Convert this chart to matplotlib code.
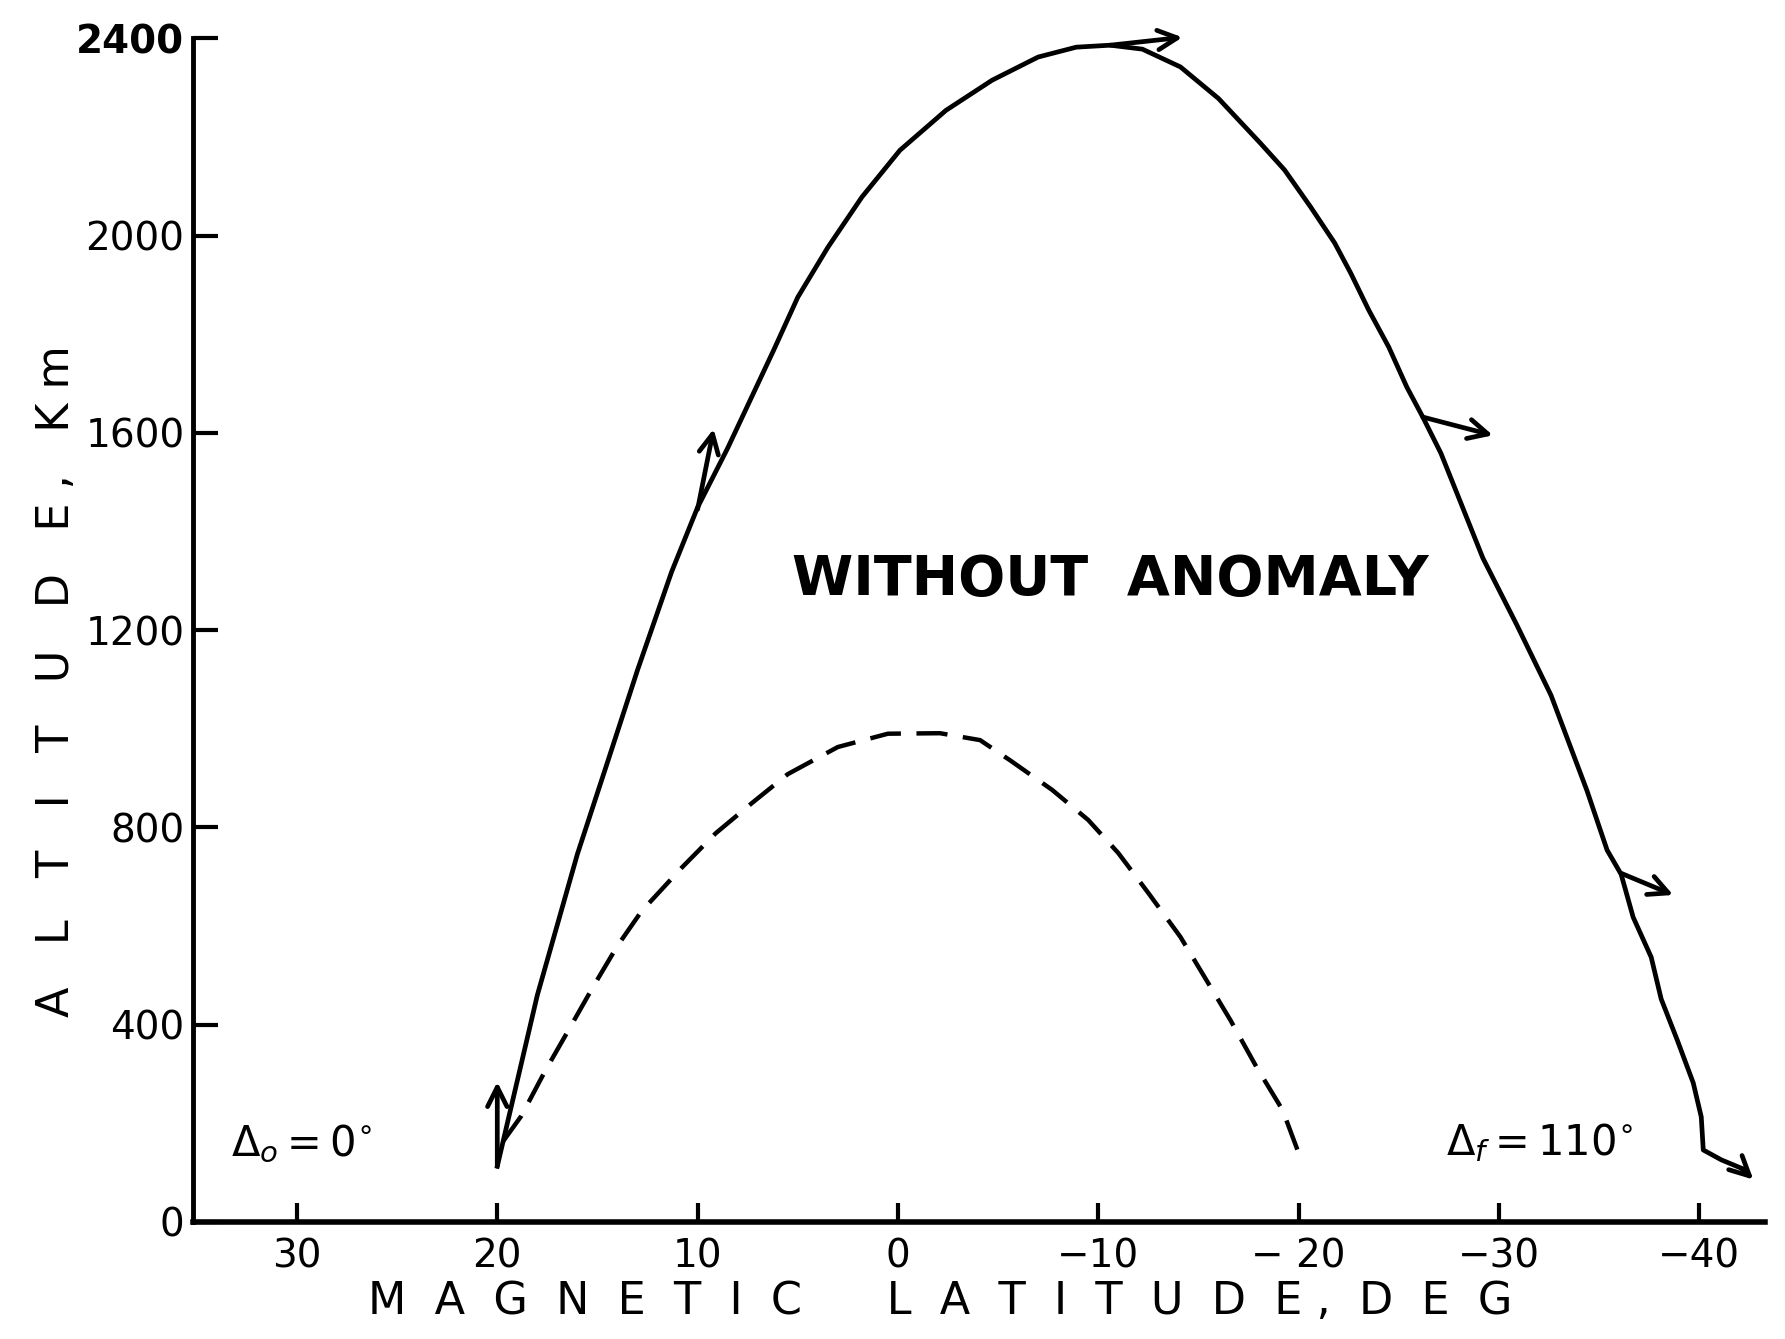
import matplotlib.pyplot as plt
import numpy as np

# trajectory without anomaly (magnetic latitude, deg / altitude, km)
lat_solid = [20.0, 18.0, 16.0, 14.5, 13.0, 11.3, 10.0, 8.5, 6.2, 5.0, 3.5, 1.8, -0.1,
             -2.4, -4.7, -7.0, -8.9, -10.6, -12.2, -14.1, -16.0, -18.1, -19.3, -20.6,
             -21.8, -22.6, -23.5, -24.5, -25.4, -26.2, -27.1, -27.9, -29.2, -30.9,
             -32.6, -34.4, -35.4, -36.1, -36.7, -37.6, -38.1, -38.9, -39.7, -40.1,
             -40.2, -41.1, -42.1]
alt_solid = [113, 460, 746, 932, 1119, 1318, 1449, 1569, 1768, 1875, 1976, 2078, 2173,
             2254, 2315, 2362, 2382, 2386, 2378, 2342, 2278, 2187, 2133, 2058,
             1985, 1924, 1849, 1774, 1693, 1632, 1559, 1478, 1346, 1210,
             1068, 874, 754, 705, 618, 537, 452, 369, 282, 213,
             146, 126, 109]

# dashed curve
lat_dash = [19.7, 18.8, 17.6, 16.5, 15.2, 14.0, 12.8, 10.8, 9.1, 7.3, 5.5, 3.0, 0.5,
            -2.1, -4.1, -5.6, -7.7, -9.5, -11.0, -12.5, -14.1, -15.3, -16.6, -17.9,
            -19.2, -20.0]
alt_dash = [164, 215, 307, 385, 478, 560, 630, 718, 788, 849, 908, 963, 990,
            991, 977, 936, 876, 815, 748, 667, 578, 497, 409, 314,
            227, 140]

# direction arrows along the path
arrow_from_lat = [20.0, 10.0, -10.6, -26.2, -36.1, -42.1]
arrow_from_alt = [113, 1445, 2386, 1632, 707, 109]
arrow_to_lat = [20.0, 9.2, -14.2, -29.7, -38.7, -42.7]
arrow_to_alt = [284, 1608, 2402, 1595, 663, 86]

x_ticks = [30, 20, 10, 0, -10, -20, -30, -40]
x_tick_labels = ['30', '20', '10', '0', '−10', '− 20', '−30', '−40']
y_ticks = [0, 400, 800, 1200, 1600, 2000, 2400]
y_tick_labels = ['0', '400', '800', '1200', '1600', '2000', '2400']

fig = plt.figure(figsize=(17.85, 13.39), dpi=100)
ax = fig.add_axes([0.108, 0.0874, 0.881, 0.884])

ax.plot(lat_solid, alt_solid, color='black', lw=3.4, solid_joinstyle='round')
ax.plot(lat_dash, alt_dash, color='black', lw=3.2, linestyle=(0, (7, 3.5)))

for x0, y0, x1, y1 in zip(arrow_from_lat, arrow_from_alt, arrow_to_lat, arrow_to_alt):
    ax.annotate('', xy=(x1, y1), xytext=(x0, y0), annotation_clip=False,
                arrowprops=dict(arrowstyle='->,head_length=0.7,head_width=0.35',
                                lw=3.4, color='black', shrinkA=0, shrinkB=0,
                                mutation_scale=20))

ax.set_xlim(35.2, -43.3)
ax.set_ylim(0, 2400)

ax.spines['top'].set_visible(False)
ax.spines['right'].set_visible(False)
ax.spines['left'].set_linewidth(3.5)
ax.spines['bottom'].set_linewidth(4)

ax.set_xticks(x_ticks)
ax.set_xticklabels(x_tick_labels)
ax.set_yticks(y_ticks)
ax.set_yticklabels(y_tick_labels)
ax.tick_params(axis='x', direction='in', length=14, width=3, pad=11, labelsize=28)
ax.tick_params(axis='y', direction='in', length=18, width=3, pad=6, labelsize=28)
ax.get_yticklabels()[-1].set_fontweight('bold')

ax.set_xlabel('M  A  G  N  E  T  I  C      L  A  T  I  T  U  D  E ,  D  E  G', fontsize=32)
ax.xaxis.set_label_coords(0.475, -0.0676)
ax.xaxis.label.set_va('center')
ax.set_ylabel('A   L   T   I   T   U   D   E ,   K m', fontsize=32)
ax.yaxis.set_label_coords(-0.0865, 0.457)
ax.yaxis.label.set_va('center')

ax.text(-10.6, 1301, 'WITHOUT  ANOMALY', fontsize=40, fontweight='bold',
        ha='center', va='center')
ax.text(33.3, 158, r'$\Delta_o = 0^{\circ}$', fontsize=30, ha='left', va='center')
ax.text(-27.35, 160, r'$\Delta_f = 110^{\circ}$', fontsize=30, ha='left', va='center')

fig.savefig('out.png', dpi=100)
